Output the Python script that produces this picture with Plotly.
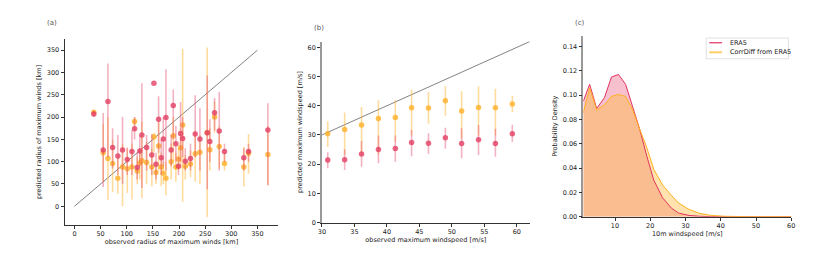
import numpy as np
import plotly.graph_objects as go

# ---------------- Panel (a): radius of maximum winds ----------------
rmw_obs = [37, 55, 64, 73, 83, 92, 101, 110, 115, 120, 125, 129, 138, 148, 152, 156, 161, 166, 170, 175,
           185, 189, 194, 199, 203, 207, 212, 222, 231, 240, 254, 259, 268, 277, 287, 324, 333, 370]
rmw_era5 = [207, 126, 235, 132, 113, 126, 105, 123, 174, 87, 124, 160, 132, 115, 276, 94, 195, 109, 151, 199,
            126, 226, 140, 90, 163, 152, 101, 107, 162, 151, 165, 145, 210, 169, 123, 109, 123, 171]
rmw_era5_lo = [200, 43, 110, 85, 70, 50, 70, 70, 150, 60, 90, 41, 80, 70, 276, 60, 120, 70, 90, 80,
               90, 150, 100, 70, 100, 110, 80, 80, 110, 80, 38, 100, 170, 80, 100, 80, 100, 47]
rmw_era5_hi = [214, 209, 320, 175, 160, 200, 132, 171, 200, 120, 160, 276, 160, 162, 276, 120, 247, 150, 200, 307,
               160, 262, 180, 110, 234, 200, 130, 140, 249, 220, 293, 195, 243, 256, 140, 130, 140, 231]
rmw_cd = [211, 120, 107, 96, 63, 88, 84, 88, 190, 79, 97, 102, 98, 88, 156, 76, 135, 88, 74, 63,
          100, 158, 88, 106, 131, 182, 90, 95, 118, 121, 165, 127, 200, 134, 96, 88, 119, 116]
rmw_cd_lo = [205, 55, 14, 32, 28, 0, 30, 15, 180, 50, 60, 18, 50, 45, 120, 50, 80, 45, 50, 25,
             60, 100, 55, 80, 85, 10, 60, 65, 55, 50, -24, 80, 165, 85, 80, 44, 73, 47]
rmw_cd_hi = [216, 185, 200, 150, 110, 140, 130, 140, 200, 110, 130, 190, 145, 130, 165, 100, 190, 120, 100, 100,
             140, 200, 120, 130, 175, 353, 115, 125, 170, 160, 356, 175, 235, 180, 120, 133, 162, 180]
one_to_one_a = [0, 350]

# ---------------- Panel (b): maximum windspeed ----------------
ws_obs = [30.9, 33.5, 36.1, 38.7, 41.3, 43.8, 46.4, 49.0, 51.5, 54.1, 56.7, 59.3]
ws_cd = [30.4, 31.9, 33.4, 35.6, 36.0, 39.3, 39.2, 41.7, 38.2, 39.4, 39.3, 40.6]
ws_cd_lo = [25.9, 23.1, 23.1, 23.3, 27.6, 29.8, 33.8, 36.6, 28.7, 29.8, 29.8, 37.9]
ws_cd_hi = [34.7, 37.7, 39.6, 41.9, 42.0, 45.6, 44.7, 46.7, 45.0, 46.7, 45.8, 43.4]
ws_era5 = [21.4, 21.5, 23.5, 25.0, 25.4, 27.4, 27.2, 29.0, 27.1, 28.4, 27.1, 30.4]
ws_era5_lo = [18.6, 18.0, 19.1, 20.3, 20.8, 22.7, 23.6, 25.3, 22.0, 23.1, 22.5, 27.6]
ws_era5_hi = [24.1, 25.1, 27.9, 29.8, 29.8, 31.7, 30.6, 32.5, 32.3, 33.4, 32.1, 33.5]
one_to_one_b = [30, 62]

# ---------------- Panel (c): PDF of 10m windspeed ----------------
pdf_era5_x = [1, 2.8, 4.8, 7, 9, 11, 13, 15, 17, 19, 21, 23.5, 26, 28, 31, 34, 37, 60]
pdf_era5_y = [0.095, 0.109, 0.089, 0.098, 0.115, 0.117, 0.109, 0.091, 0.072, 0.050, 0.030, 0.0155,
              0.007, 0.003, 0.001, 0.0003, 0.0, 0.0]
pdf_cd_x = [1, 2.8, 4.8, 7, 9, 11, 13, 15, 17, 19, 21, 23.5, 26, 28, 31, 34, 37, 41, 47, 60]
pdf_cd_y = [0.0855, 0.106, 0.088, 0.092, 0.099, 0.1006, 0.099, 0.088, 0.072, 0.057, 0.039, 0.026,
            0.0175, 0.0113, 0.0059, 0.0027, 0.0011, 0.0003, 0.0, 0.0]
legend_names = ["ERA5", "CorrDiff from ERA5"]

RED = "rgba(226,62,100,0.8)"
RED_BAR = "rgba(226,62,100,0.4)"
ORG = "rgba(255,176,40,0.8)"
ORG_BAR = "rgba(255,176,40,0.45)"
RED_LINE = "#e0335f"
ORG_LINE = "#ffb020"
FONT = "DejaVu Sans"
TXT = "#222"
FS = 6.5


def err(y, lo, hi):
    y = np.array(y, float)
    return dict(type="data", symmetric=False, array=np.array(hi, float) - y,
                arrayminus=y - np.array(lo, float), width=0, thickness=1.6)


fig = go.Figure()

# panel a
fig.add_trace(go.Scatter(x=one_to_one_a, y=one_to_one_a, mode="lines",
                         line=dict(color="rgba(60,60,60,0.8)", width=0.8), showlegend=False,
                         xaxis="x", yaxis="y"))
fig.add_trace(go.Scatter(x=rmw_obs, y=rmw_cd, mode="markers",
                         marker=dict(color=ORG, size=5.5),
                         error_y=dict(err(rmw_cd, rmw_cd_lo, rmw_cd_hi), color=ORG_BAR),
                         showlegend=False, xaxis="x", yaxis="y"))
fig.add_trace(go.Scatter(x=rmw_obs, y=rmw_era5, mode="markers",
                         marker=dict(color=RED, size=5.5),
                         error_y=dict(err(rmw_era5, rmw_era5_lo, rmw_era5_hi), color=RED_BAR),
                         showlegend=False, xaxis="x", yaxis="y"))

# panel b
fig.add_trace(go.Scatter(x=one_to_one_b, y=one_to_one_b, mode="lines",
                         line=dict(color="rgba(60,60,60,0.8)", width=0.8), showlegend=False,
                         xaxis="x2", yaxis="y2"))
fig.add_trace(go.Scatter(x=ws_obs, y=ws_cd, mode="markers",
                         marker=dict(color=ORG, size=5.5),
                         error_y=dict(err(ws_cd, ws_cd_lo, ws_cd_hi), color=ORG_BAR),
                         showlegend=False, xaxis="x2", yaxis="y2"))
fig.add_trace(go.Scatter(x=ws_obs, y=ws_era5, mode="markers",
                         marker=dict(color=RED, size=5.5),
                         error_y=dict(err(ws_era5, ws_era5_lo, ws_era5_hi), color=RED_BAR),
                         showlegend=False, xaxis="x2", yaxis="y2"))

# panel c
fig.add_trace(go.Scatter(x=pdf_era5_x, y=pdf_era5_y, mode="lines", fill="tozeroy",
                         fillcolor="rgba(232,90,125,0.38)", line=dict(width=0, color="rgba(0,0,0,0)"),
                         showlegend=False, xaxis="x3", yaxis="y3", hoverinfo="skip"))
fig.add_trace(go.Scatter(x=pdf_cd_x, y=pdf_cd_y, mode="lines", fill="tozeroy",
                         fillcolor="rgba(255,185,60,0.42)", line=dict(width=0, color="rgba(0,0,0,0)"),
                         showlegend=False, xaxis="x3", yaxis="y3", hoverinfo="skip"))
fig.add_trace(go.Scatter(x=pdf_era5_x, y=pdf_era5_y, mode="lines", name=legend_names[0],
                         line=dict(color=RED_LINE, width=1), xaxis="x3", yaxis="y3", showlegend=False))
fig.add_trace(go.Scatter(x=pdf_cd_x, y=pdf_cd_y, mode="lines", name=legend_names[1],
                         line=dict(color=ORG_LINE, width=1), xaxis="x3", yaxis="y3", showlegend=False))

axis_common = dict(showgrid=False, zeroline=False, ticks="outside", ticklen=3, tickwidth=0.8,
                   tickcolor="#333", showline=True, linecolor="#333", linewidth=1,
                   tickfont=dict(family=FONT, size=FS, color=TXT),
                   title_font=dict(family=FONT, size=FS, color=TXT))

W, H = 830, 260


def px(x):
    return x / W


def py(y):
    return 1 - y / H


# compact matplotlib-style legend box (drawn in paper coordinates)
shapes = [
    dict(type="rect", xref="paper", yref="paper", x0=px(701), x1=px(784), y0=py(51.5), y1=py(30.5),
         fillcolor="rgba(255,255,255,0.85)", line=dict(color="#d8d8d8", width=0.8), layer="above"),
    dict(type="line", xref="paper", yref="paper", x0=px(704), x1=px(717), y0=py(35.3), y1=py(35.3),
         line=dict(color=RED_LINE, width=1.2), layer="above"),
    dict(type="line", xref="paper", yref="paper", x0=px(704), x1=px(717), y0=py(45), y1=py(45),
         line=dict(color="rgba(255,200,90,0.9)", width=2), layer="above"),
]

annotations = [
    dict(text=legend_names[0], x=px(722.5), y=py(35.3), xref="paper", yref="paper", showarrow=False,
         xanchor="left", yanchor="middle", font=dict(family=FONT, size=FS, color=TXT)),
    dict(text=legend_names[1], x=px(722.5), y=py(45), xref="paper", yref="paper", showarrow=False,
         xanchor="left", yanchor="middle", font=dict(family=FONT, size=FS, color=TXT)),
    dict(text="(a)", x=px(33), y=py(15), xref="paper", yref="paper", showarrow=False,
         xanchor="left", yanchor="middle", font=dict(family=FONT, size=7, color="#555")),
    dict(text="(b)", x=px(303), y=py(20), xref="paper", yref="paper", showarrow=False,
         xanchor="left", yanchor="middle", font=dict(family=FONT, size=7, color="#555")),
    dict(text="(c)", x=px(566), y=py(15), xref="paper", yref="paper", showarrow=False,
         xanchor="left", yanchor="middle", font=dict(family=FONT, size=7, color="#555")),
]

fig.update_layout(
    width=W, height=H, margin=dict(l=0, r=0, t=0, b=0),
    paper_bgcolor="white", plot_bgcolor="white", showlegend=False,
    font=dict(family=FONT, size=FS, color=TXT),
    xaxis=dict(axis_common, domain=[0.0639, 0.324], range=[-19, 390], tickvals=list(range(0, 351, 50)),
               title=dict(text="observed radius of maximum winds [km]", standoff=2)),
    yaxis=dict(axis_common, domain=[0.154, 0.877], range=[-41, 374], tickvals=list(range(0, 351, 50)),
               title=dict(text="predicted radius of maximum winds [km]", standoff=4)),
    xaxis2=dict(axis_common, anchor="y2", domain=[0.377, 0.630], range=[30, 62],
                tickvals=list(range(30, 61, 5)),
                title=dict(text="observed maximum windspeed [m/s]", standoff=2)),
    yaxis2=dict(axis_common, anchor="x2", domain=[0.162, 0.869], range=[0, 62],
                tickvals=list(range(0, 61, 10)), linecolor="#999", linewidth=1.5,
                title=dict(text="predicted maximum windspeed [m/s]", standoff=4)),
    xaxis3=dict(axis_common, anchor="y3", domain=[0.695, 0.948], range=[1, 60],
                tickvals=list(range(10, 61, 10)),
                title=dict(text="10m windspeed [m/s]", standoff=2)),
    yaxis3=dict(axis_common, anchor="x3", domain=[0.185, 0.892], range=[0, 0.149],
                tickvals=[0, 0.02, 0.04, 0.06, 0.08, 0.10, 0.12, 0.14], tickformat=".2f",
                linecolor="#999", linewidth=1.5,
                title=dict(text="Probability Density", standoff=4)),
    shapes=shapes,
    annotations=annotations,
)

fig.write_html("out.html")
